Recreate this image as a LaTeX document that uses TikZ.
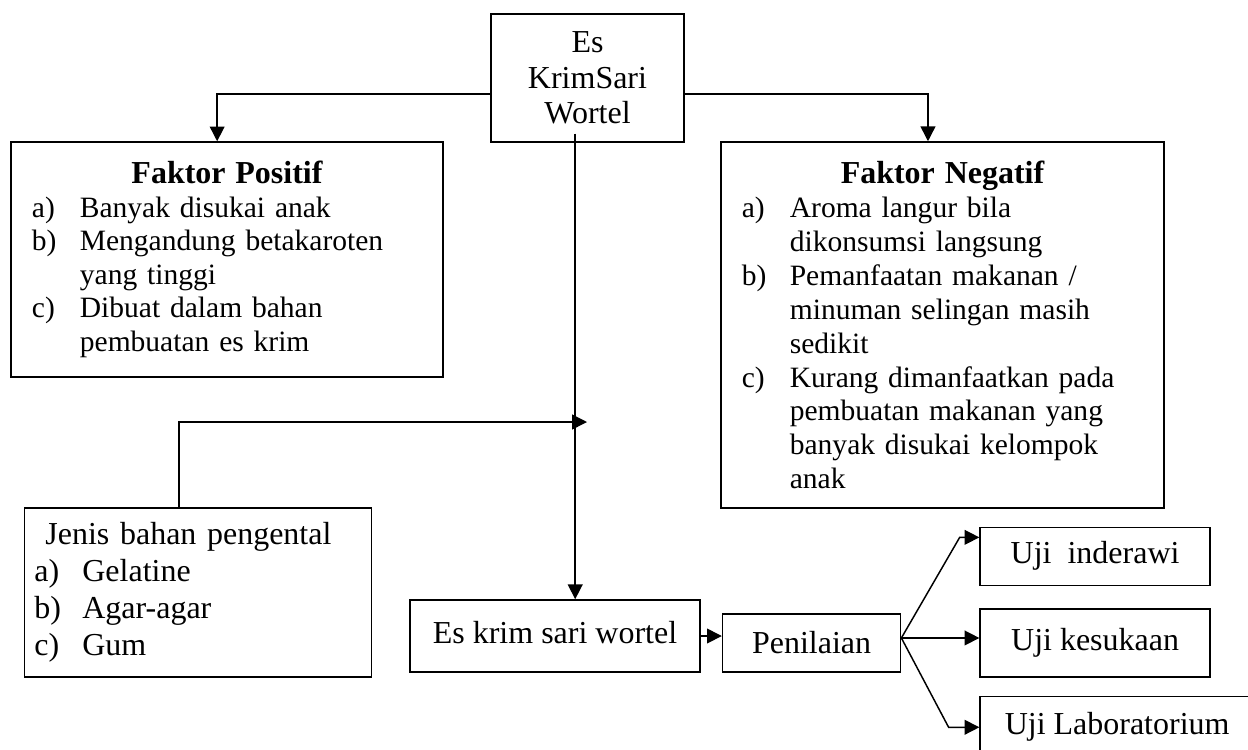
\documentclass[tikz,border=0pt]{standalone}
\usepackage{fontspec}
\setmainfont{Liberation Serif}
\usetikzlibrary{arrows.meta, positioning}

\newcommand{\listlbl}[1]{\makebox[19.5pt][l]{#1}}
\newcommand{\boxtitle}[1]{\centerline{\fontsize{13}{13.6}\selectfont\bfseries #1}}

\begin{document}
\begin{tikzpicture}[
    x=0.4065pt, y=-0.4065pt,
    box/.style={rectangle, draw, line width=0.6pt, inner sep=0pt, align=center, font=\fontsize{13}{14.5}\selectfont},
    listbox/.style={box, align=left, inner xsep=8.5pt, font=\fontsize{12}{13.6}\selectfont},
    arrow/.style={-{Triangle[length=6pt, width=6pt]}, line width=0.6pt}
]
    \useasboundingbox (0,0) rectangle (1248,749);

    % Top
    \node[box, minimum width=78.5pt, minimum height=52pt] (top) at (587.5,78) {Es\\KrimSari\\Wortel};

    % Factors
    \node[listbox, text width=158.6pt, minimum height=95.5pt] (pos) at (227,259.5) {%
        \boxtitle{Faktor Positif}
        \listlbl{a)}Banyak disukai anak\\
        \listlbl{b)}Mengandung betakaroten\\
        \listlbl{}yang tinggi\\
        \listlbl{c)}Dibuat dalam bahan\\
        \listlbl{}pembuatan es krim};
    \node[listbox, text width=163.1pt, minimum height=148.8pt, font=\fontsize{12}{13.8}\selectfont] (neg) at (942.5,325) {%
        \boxtitle{Faktor Negatif}
        \listlbl{a)}Aroma langur bila\\
        \listlbl{}dikonsumsi langsung\\
        \listlbl{b)}Pemanfaatan makanan /\\
        \listlbl{}minuman selingan masih\\
        \listlbl{}sedikit\\
        \listlbl{c)}Kurang dimanfaatkan pada\\
        \listlbl{}pembuatan makanan yang\\
        \listlbl{}banyak disukai kelompok\\
        \listlbl{}anak};

    % Thickener
    \node[listbox, inner xsep=4pt, text width=133pt, minimum height=68.7pt, font=\fontsize{13}{15}\selectfont] (jenis) at (198,592.5) {%
        \hspace*{4.5pt}Jenis bahan pengental\\
        \listlbl{a)}Gelatine\\
        \listlbl{b)}Agar-agar\\
        \listlbl{c)}Gum};

    % Product and tests
    \node[box, minimum width=118pt, minimum height=29.3pt, text depth=3pt] (eskrim) at (555,636) {Es krim sari wortel};
    \node[box, minimum width=72.4pt, minimum height=23.6pt, right=8.5pt of eskrim, yshift=-2.8pt] (nilai) {Penilaian};
    \node[box, minimum width=93.5pt, minimum height=27.6pt, right=31.7pt of nilai] (uji2) {Uji kesukaan};
    \node[box, minimum width=93.5pt, minimum height=23.6pt, above=9pt of uji2] (uji1) {Uji\ \ inderawi};
    \node[box, minimum width=111.4pt, minimum height=25.2pt, below=7.3pt of uji2.south west, anchor=north west] (uji3) {Uji Laboratorium};

    \coordinate (trunk) at ([xshift=-5pt, yshift=3.7pt]top.south);
    \coordinate (join) at (587,422);
    \coordinate (fork) at ([yshift=2pt]nilai.east);

    % Connectors
    \draw[arrow] ([yshift=-6.5pt]top.west) -| ([xshift=-4pt]pos.north);
    \draw[arrow] ([yshift=-6.5pt]top.east) -| ([xshift=-5.9pt]neg.north);
    \draw[arrow] (trunk) -- (trunk |- eskrim.north);
    \draw[arrow] ([xshift=-7.7pt]jenis.north) |- (join);
    \draw[arrow] (eskrim.east) -- (nilai.west |- eskrim.east);
    \draw[arrow] (fork) -- ([xshift=-8pt, yshift=7.7pt]uji1.west) -- ([yshift=7.7pt]uji1.west);
    \draw[arrow] (fork) -- (fork -| uji2.west);
    \draw[arrow] (fork) -- ([xshift=-12.5pt]uji3.west) -- (uji3.west);
\end{tikzpicture}
\end{document}
